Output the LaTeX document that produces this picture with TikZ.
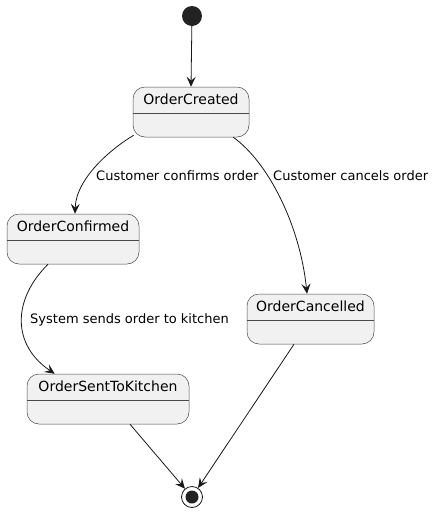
\documentclass[tikz,border=0pt]{standalone}
\usepackage{fontspec}
\setmainfont{DejaVu Sans}
\usetikzlibrary{arrows.meta,calc}
\definecolor{linec}{HTML}{181818}
\definecolor{boxline}{HTML}{4A4A4A}
\definecolor{boxfill}{HTML}{F1F1F1}
\definecolor{dotc}{HTML}{222222}
\tikzset{
  statebox/.style={draw=boxline, line width=0.5pt, fill=boxfill, rounded corners=12pt, inner sep=0pt},
  statename/.style={font=\fontsize{14}{16}\selectfont, text=black, anchor=center, inner sep=0pt},
  edgelbl/.style={font=\fontsize{13}{15}\selectfont, text=black, anchor=west, inner sep=0pt},
  trans/.style={draw=linec, line width=0.8pt, -{Stealth[length=10pt,width=9pt,inset=4pt]}},
  divider/.style={draw=boxline, line width=0.5pt}
}
\begin{document}
\begin{tikzpicture}[x=1pt,y=-1pt]
\useasboundingbox (0,0) rectangle (435,512);
% start / end
\node[circle, fill=dotc, minimum size=20pt, inner sep=0pt] (start) at (192,16) {};
\node[circle, draw=linec, line width=0.8pt, fill=white, minimum size=21pt, inner sep=0pt] (end) at (192,497) {};
\node[circle, fill=dotc, minimum size=13pt, inner sep=0pt] (enddot) at (192,497) {};
% states
\node[statebox, minimum width=116pt, minimum height=50pt] (created) at (191,112) {};
\node[statebox, minimum width=132pt, minimum height=50pt] (confirmed) at (73,239) {};
\node[statebox, minimum width=162pt, minimum height=50pt] (kitchen) at (108,399) {};
\node[statebox, minimum width=127pt, minimum height=50pt] (cancelled) at (310.5,319) {};
\foreach \n/\t in {created/OrderCreated, confirmed/OrderConfirmed, kitchen/OrderSentToKitchen, cancelled/OrderCancelled}{
  \node[statename] (\n-name) at ($(\n.north)+(0,13)$) {\t};
  \draw[divider] ($(\n.north west)+(0,26)$) -- ($(\n.north east)+(0,26)$);
}
% transitions
\draw[trans] (start) -- (created.north);
\draw[trans] ($(created.south west)+(1,-2)$) .. controls (112,148) and (76,178) .. ($(confirmed.north)+(2,0)$);
\draw[trans] ($(created.south east)+(-16,0)$) .. controls (268,162) and (300,225) .. ($(cancelled.north)+(-3.5,0)$);
\draw[trans] ($(confirmed.south)+(-25,0)$) .. controls (12,300) and (12,345) .. ($(kitchen.north west)+(28,0)$);
\draw[trans] ($(kitchen.south)+(22,0)$) -- (end);
\draw[trans] ($(cancelled.south)+(-16.5,0)$) -- (end);
% labels
\node[edgelbl] (lbl1) at (96,176) {Customer confirms order};
\node[edgelbl] (lbl2) at (273,176) {Customer cancels order};
\node[edgelbl] (lbl3) at (30,320) {System sends order to kitchen};
\end{tikzpicture}
\end{document}
